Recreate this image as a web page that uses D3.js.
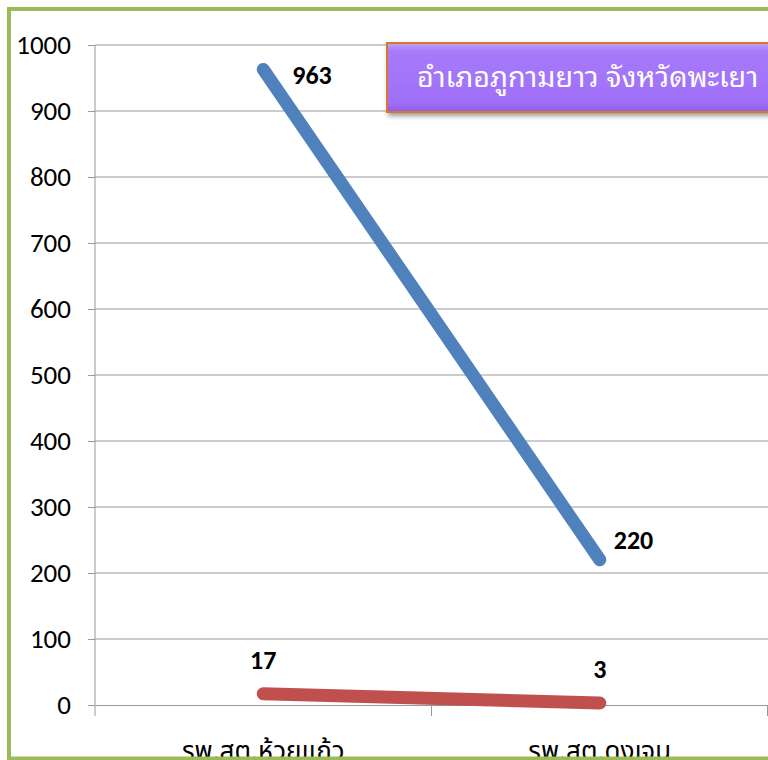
<!DOCTYPE html>
<html><head><meta charset="utf-8">
<script src="https://cdn.jsdelivr.net/npm/d3@7"></script>
<style>html,body{margin:0;padding:0;background:#fff;overflow:hidden;}</style>
</head><body>
<svg id="c" width="768" height="760"></svg>
<script>
const categories = ["รพ.สต.ห้วยแก้ว", "รพ.สต.ดงเจน"];
const seriesBlue = [963, 220];
const seriesRed = [17, 3];
const yTicks = [0,100,200,300,400,500,600,700,800,900,1000];
const title = "อำเภอภูกามยาว จังหวัดพะเยา";

const svg = d3.select("#c");
const defs = svg.append("defs");
const g1 = defs.append("linearGradient").attr("id","tg").attr("x1",0).attr("y1",0).attr("x2",0).attr("y2",1);
g1.append("stop").attr("offset","0%").attr("stop-color","#C3A2FB");
g1.append("stop").attr("offset","12%").attr("stop-color","#A67AFA");
g1.append("stop").attr("offset","85%").attr("stop-color","#A070F8");
g1.append("stop").attr("offset","100%").attr("stop-color","#8F5EE6");
const f = defs.append("filter").attr("id","sh").attr("x","-10%").attr("y","-20%").attr("width","130%").attr("height","160%");
f.append("feDropShadow").attr("dx",2).attr("dy",3).attr("stdDeviation",2.5).attr("flood-color","#000").attr("flood-opacity",0.4);
defs.append("clipPath").attr("id","clipArea").append("rect").attr("x",0).attr("y",0).attr("width",768).attr("height",757);

const root = svg.append("g").attr("clip-path","url(#clipArea)");

const x = d3.scaleBand().domain(categories).range([95, 768]).padding(0);
const y = d3.scaleLinear().domain([0,1000]).range([705, 45]);

// gridlines
root.append("g").selectAll("line").data(yTicks.filter(d=>d>0)).join("line")
  .attr("x1",95).attr("x2",768).attr("y1",d=>y(d)).attr("y2",d=>y(d))
  .attr("stroke","#999").attr("stroke-width",1);

const numFont = "Carlito, Calibri, Lato, 'Liberation Sans', sans-serif";
// y axis
const ya = root.append("g").attr("transform","translate(95,0)")
  .call(d3.axisLeft(y).tickValues(yTicks).tickSize(7).tickPadding(17).tickFormat(d3.format("d")));
ya.select(".domain").attr("stroke","#999").attr("d","M0,45V716");
ya.selectAll(".tick line").attr("stroke","#999");
ya.selectAll("text").attr("font-family",numFont).attr("font-size",27).attr("fill","#000");

// x axis
const xa = root.append("g").attr("transform","translate(0,705)")
  .call(d3.axisBottom(x).tickSize(0).tickPadding(0));
xa.select(".domain").attr("stroke","#999");
xa.selectAll(".tick text").attr("dy",0).attr("y",55).attr("font-size",26)
  .attr("font-family","'Noto Sans Thai','Noto Sans','DejaVu Sans',sans-serif").attr("fill","#000");
root.append("g").selectAll("line").data([...categories.slice(1), null]).join("line")
  .attr("x1",d=> d? x(d) : 767.5).attr("x2",d=> d? x(d) : 767.5)
  .attr("y1",705).attr("y2",716).attr("stroke","#999");

const cx = c => x(c) + x.bandwidth()/2;
const line = d3.line().x((d,i)=>cx(categories[i])).y(d=>y(d));

root.append("path").datum(seriesRed).attr("d",line).attr("fill","none")
  .attr("stroke","#C0504D").attr("stroke-width",13).attr("stroke-linecap","round");
root.append("path").datum(seriesBlue).attr("d",line).attr("fill","none")
  .attr("stroke","#4F81BD").attr("stroke-width",13).attr("stroke-linecap","round");

// blue labels to the right; the second one sits higher and closer (as placed in the source)
const blueDx = [29, 14];
const blueDy = [15, -11];
root.append("g").selectAll("text").data(seriesBlue).join("text")
  .attr("x",(d,i)=>cx(categories[i])+blueDx[i]).attr("y",(d,i)=>y(d)+blueDy[i])
  .attr("font-family",numFont).attr("font-weight","bold").attr("font-size",26).attr("fill","#000")
  .text(d=>d);
root.append("g").selectAll("text").data(seriesRed).join("text")
  .attr("x",(d,i)=>cx(categories[i])).attr("y",d=>y(d)-25)
  .attr("text-anchor","middle")
  .attr("font-family",numFont).attr("font-weight","bold").attr("font-size",26).attr("fill","#000")
  .text(d=>d);

// title box
root.append("rect").attr("x",387).attr("y",43).attr("width",400).attr("height",69)
  .attr("fill","url(#tg)").attr("stroke","#D8762A").attr("stroke-width",2).attr("filter","url(#sh)");
root.append("text").attr("x",417).attr("y",87).attr("fill","#fff").attr("font-size",28.7)
  .attr("font-family","'Noto Sans Thai Looped','Noto Sans Thai','Noto Sans','DejaVu Sans',sans-serif")
  .text(title);

// outer green frame
svg.append("rect").attr("x",9).attr("y",9).attr("width",800).attr("height",749.5)
  .attr("fill","none").attr("stroke","#9BBB59").attr("stroke-width",4);
</script>
</body></html>
